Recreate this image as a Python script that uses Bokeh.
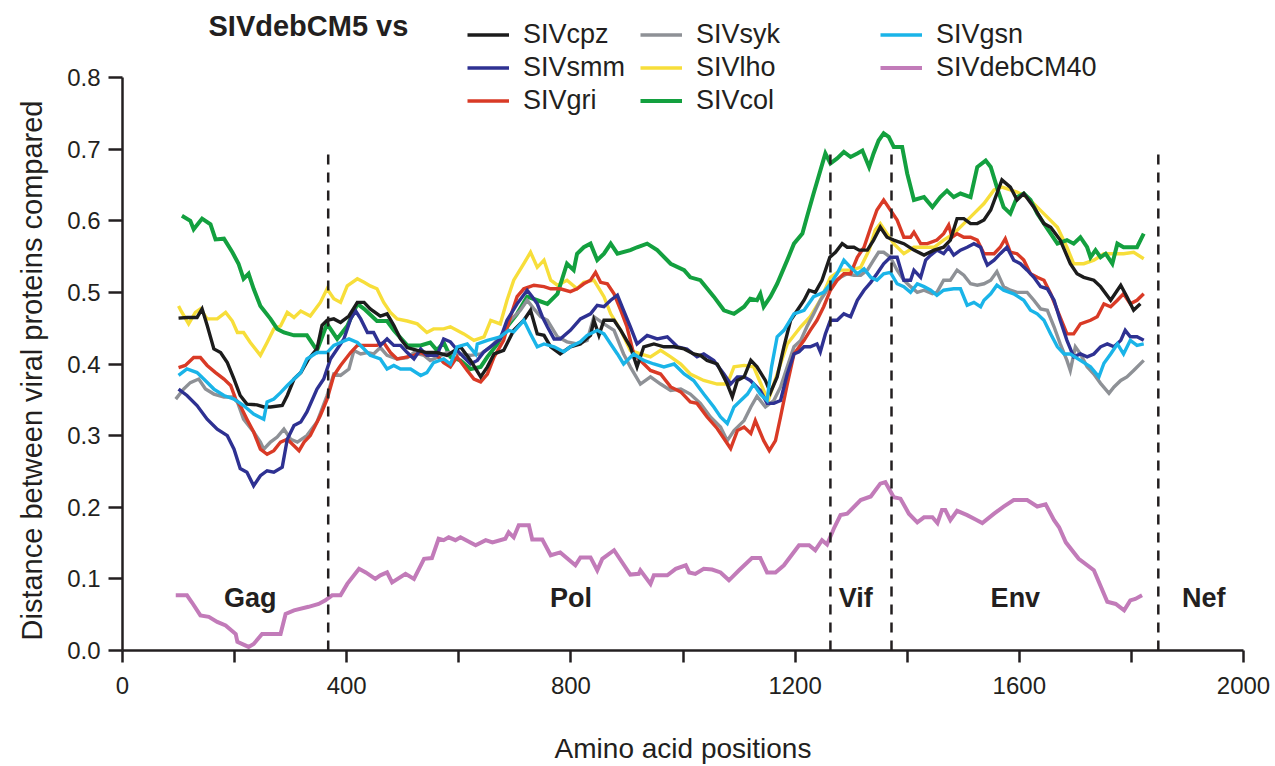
from bokeh.plotting import figure
from bokeh.models import (Range1d, FixedTicker, Legend, LegendItem, Label, Title,
                          ColumnDataSource, PrintfTickFormatter)
from bokeh.embed import file_html
from bokeh.resources import INLINE
from bokeh.core.properties import value

FONT = "Liberation Sans"
INK = "#231f20"

# ---------------- data (amino-acid position, distance) ----------------
SIVcpz = [(100,.464),(115,.465),(133,.465),(142,.477),(151,.454),(163,.421),(175,.416),(187,.402),(199,.379),(210,.356),(222,.344),(240,.343),(252,.340),(264,.340),(285,.342),(294,.356),(306,.379),(318,.388),(332,.407),(347,.421),(356,.454),(365,.461),(377,.463),(389,.458),(404,.467),(419,.486),(431,.486),(442,.477),(460,.467),(472,.470),(484,.454),(496,.435),(508,.423),(526,.419),(543,.416),(561,.416),(579,.412),(603,.424),(621,.405),(639,.382),(651,.396),(663,.414),(680,.419),(698,.447),(716,.461),(728,.475),(740,.442),(752,.440),(764,.424),(781,.414),(799,.424),(817,.428),(835,.440),(841,.461),(850,.440),(859,.461),(877,.461),(889,.447),(906,.424),(918,.396),(930,.424),(948,.428),(966,.424),(984,.424),(1002,.421),(1019,.414),(1031,.412),(1043,.405),(1061,.400),(1079,.372),(1088,.354),(1097,.377),(1109,.382),(1121,.405),(1132,.396),(1147,.377),(1156,.360),(1168,.382),(1180,.424),(1192,.461),(1204,.475),(1216,.489),(1225,.503),(1236,.500),(1248,.517),(1262,.549),(1272,.556),(1284,.568),(1293,.563),(1305,.563),(1314,.559),(1329,.559),(1340,.573),(1352,.591),(1364,.577),(1376,.573),(1394,.568),(1412,.559),(1430,.552),(1448,.559),(1465,.563),(1477,.573),(1489,.603),(1501,.603),(1513,.596),(1525,.596),(1537,.601),(1549,.615),(1560,.638),(1569,.657),(1584,.647),(1596,.629),(1608,.638),(1626,.619),(1644,.596),(1656,.591),(1673,.573),(1691,.540),(1703,.526),(1715,.521),(1733,.517),(1745,.508),(1763,.489),(1775,.503),(1781,.510),(1792,.494),(1804,.475),(1816,.484)]

SIVsmm = [(100,.365),(115,.356),(133,.342),(151,.323),(169,.309),(187,.300),(199,.281),(210,.254),(222,.249),(234,.230),(246,.244),(258,.251),(270,.249),(285,.256),(294,.295),(306,.314),(318,.319),(329,.333),(347,.365),(359,.379),(371,.407),(383,.421),(395,.435),(407,.463),(416,.474),(425,.463),(437,.444),(448,.444),(460,.426),(472,.435),(484,.426),(496,.426),(508,.416),(520,.407),(532,.421),(543,.412),(561,.412),(573,.435),(585,.431),(603,.414),(621,.400),(633,.405),(645,.417),(663,.428),(674,.435),(686,.461),(704,.484),(722,.503),(731,.494),(740,.484),(749,.466),(758,.452),(770,.435),(781,.435),(799,.447),(817,.463),(835,.470),(847,.482),(859,.480),(871,.489),(883,.496),(894,.475),(906,.452),(918,.428),(936,.440),(954,.435),(972,.438),(990,.424),(1007,.421),(1025,.410),(1037,.414),(1055,.405),(1073,.386),(1085,.372),(1097,.382),(1109,.382),(1120,.377),(1138,.363),(1150,.345),(1162,.345),(1174,.349),(1186,.386),(1198,.414),(1207,.417),(1216,.424),(1227,.424),(1239,.428),(1245,.417),(1254,.442),(1263,.461),(1275,.461),(1287,.470),(1299,.466),(1311,.489),(1323,.503),(1335,.514),(1346,.526),(1358,.540),(1370,.549),(1382,.549),(1394,.517),(1406,.517),(1412,.531),(1424,.521),(1433,.545),(1442,.552),(1453,.559),(1465,.554),(1474,.563),(1483,.552),(1495,.559),(1507,.563),(1519,.568),(1531,.563),(1537,.549),(1543,.538),(1555,.545),(1566,.554),(1578,.563),(1590,.545),(1602,.540),(1614,.531),(1626,.521),(1638,.508),(1650,.505),(1662,.489),(1673,.461),(1685,.433),(1697,.410),(1709,.414),(1721,.410),(1733,.414),(1745,.424),(1757,.428),(1769,.424),(1781,.433),(1789,.447),(1798,.438),(1810,.438),(1822,.433)]

SIVgri = [(100,.395),(112,.398),(127,.409),(139,.409),(151,.398),(166,.388),(181,.379),(193,.370),(202,.351),(210,.342),(222,.323),(234,.305),(246,.281),(258,.274),(270,.279),(282,.291),(294,.295),(306,.286),(315,.279),(324,.291),(335,.300),(353,.328),(365,.351),(377,.384),(389,.398),(407,.416),(419,.426),(437,.426),(454,.426),(466,.430),(478,.416),(490,.407),(502,.409),(520,.412),(532,.416),(543,.412),(561,.412),(573,.402),(585,.396),(597,.410),(615,.391),(627,.379),(639,.375),(651,.386),(663,.410),(680,.433),(692,.466),(704,.494),(716,.505),(734,.510),(752,.508),(764,.505),(781,.505),(799,.501),(811,.505),(823,.512),(835,.517),(844,.528),(853,.514),(865,.512),(877,.498),(889,.475),(900,.452),(912,.414),(924,.405),(942,.391),(960,.386),(978,.368),(996,.361),(1013,.347),(1025,.345),(1043,.326),(1061,.310),(1085,.282),(1097,.307),(1109,.312),(1121,.303),(1129,.321),(1144,.293),(1154,.279),(1165,.293),(1174,.326),(1186,.372),(1198,.414),(1216,.433),(1227,.447),(1239,.461),(1251,.480),(1263,.503),(1275,.517),(1287,.526),(1299,.526),(1311,.549),(1323,.563),(1335,.591),(1346,.615),(1358,.629),(1370,.615),(1382,.601),(1394,.577),(1406,.577),(1412,.584),(1424,.568),(1436,.568),(1453,.573),(1465,.582),(1474,.594),(1480,.577),(1489,.582),(1501,.577),(1513,.577),(1525,.573),(1537,.554),(1555,.554),(1566,.563),(1575,.575),(1584,.556),(1596,.554),(1608,.545),(1620,.526),(1632,.521),(1644,.517),(1656,.498),(1668,.475),(1685,.442),(1697,.442),(1709,.456),(1727,.461),(1739,.466),(1751,.484),(1763,.480),(1775,.489),(1786,.498),(1798,.484),(1810,.489),(1822,.498)]

SIVsyk = [(95,.351),(109,.365),(121,.374),(136,.379),(148,.365),(163,.358),(181,.354),(196,.354),(205,.347),(216,.323),(234,.305),(246,.291),(252,.281),(264,.291),(276,.298),(288,.309),(300,.295),(312,.291),(329,.300),(347,.319),(365,.356),(377,.386),(389,.384),(404,.393),(413,.419),(425,.414),(437,.416),(448,.414),(460,.423),(472,.412),(490,.407),(508,.409),(520,.416),(538,.412),(549,.405),(561,.409),(579,.416),(603,.414),(621,.412),(639,.414),(657,.424),(674,.438),(692,.461),(710,.475),(722,.489),(734,.477),(746,.466),(758,.461),(776,.438),(793,.431),(811,.428),(829,.433),(841,.466),(859,.456),(877,.447),(894,.414),(906,.396),(924,.372),(942,.382),(960,.372),(978,.363),(996,.365),(1013,.358),(1031,.345),(1049,.326),(1067,.312),(1079,.293),(1091,.307),(1109,.321),(1121,.340),(1132,.355),(1147,.340),(1162,.349),(1174,.368),(1186,.396),(1198,.424),(1210,.433),(1221,.452),(1233,.470),(1245,.489),(1257,.503),(1269,.514),(1281,.521),(1293,.526),(1305,.524),(1317,.524),(1329,.531),(1340,.545),(1349,.556),(1358,.556),(1370,.549),(1382,.531),(1394,.517),(1406,.508),(1418,.500),(1430,.503),(1445,.498),(1453,.500),(1465,.517),(1477,.517),(1489,.531),(1501,.524),(1513,.512),(1525,.510),(1537,.512),(1549,.517),(1560,.529),(1572,.508),(1584,.503),(1596,.500),(1614,.500),(1626,.489),(1638,.477),(1650,.475),(1662,.452),(1673,.428),(1685,.405),(1691,.391),(1700,.424),(1709,.414),(1721,.396),(1733,.386),(1745,.373),(1760,.359),(1769,.368),(1781,.377),(1792,.382),(1804,.391),(1822,.405)]

SIVlho = [(100,.481),(106,.472),(118,.456),(130,.472),(139,.477),(151,.463),(169,.463),(184,.472),(196,.460),(205,.444),(216,.444),(228,.430),(246,.412),(258,.430),(270,.449),(282,.453),(294,.472),(306,.465),(318,.474),(335,.467),(353,.486),(365,.505),(377,.491),(389,.486),(401,.509),(419,.519),(431,.514),(442,.509),(454,.505),(466,.486),(478,.472),(490,.463),(508,.460),(526,.456),(543,.444),(555,.449),(573,.449),(585,.452),(609,.442),(627,.433),(645,.438),(657,.461),(674,.456),(686,.489),(698,.517),(716,.540),(728,.556),(740,.535),(752,.545),(764,.517),(776,.510),(793,.517),(811,.505),(823,.514),(841,.517),(859,.494),(871,.470),(889,.447),(906,.419),(924,.414),(942,.410),(960,.419),(978,.410),(996,.400),(1013,.386),(1037,.377),(1061,.372),(1079,.372),(1091,.396),(1109,.398),(1126,.396),(1144,.363),(1152,.349),(1168,.386),(1186,.428),(1210,.452),(1227,.466),(1245,.489),(1263,.521),(1281,.531),(1299,.531),(1317,.535),(1332,.559),(1343,.587),(1352,.596),(1364,.582),(1376,.568),(1394,.554),(1412,.563),(1430,.563),(1448,.563),(1465,.573),(1483,.582),(1501,.596),(1519,.610),(1537,.624),(1555,.643),(1569,.647),(1584,.643),(1596,.640),(1614,.633),(1632,.619),(1650,.605),(1668,.591),(1685,.563),(1697,.540),(1715,.540),(1733,.545),(1751,.554),(1769,.554),(1786,.554),(1804,.556),(1822,.547)]

SIVcol = [(106,.607),(121,.600),(127,.588),(142,.603),(157,.595),(166,.574),(181,.575),(196,.556),(207,.540),(216,.519),(225,.526),(234,.505),(246,.481),(264,.463),(276,.449),(288,.444),(306,.440),(329,.440),(347,.419),(365,.456),(383,.435),(401,.453),(419,.484),(431,.477),(454,.460),(472,.460),(484,.447),(508,.426),(532,.426),(549,.430),(561,.419),(573,.430),(585,.410),(603,.405),(621,.393),(639,.396),(651,.410),(669,.428),(686,.452),(704,.470),(722,.494),(740,.489),(758,.484),(776,.498),(793,.540),(805,.531),(811,.554),(823,.563),(835,.568),(847,.545),(859,.554),(871,.568),(883,.554),(906,.559),(918,.563),(936,.568),(954,.559),(978,.540),(1002,.531),(1013,.521),(1031,.517),(1055,.494),(1073,.475),(1091,.470),(1109,.480),(1120,.491),(1132,.489),(1138,.498),(1144,.480),(1156,.494),(1168,.512),(1186,.545),(1198,.568),(1213,.582),(1221,.605),(1233,.638),(1245,.670),(1254,.694),(1263,.680),(1275,.687),(1287,.696),(1299,.689),(1311,.694),(1320,.698),(1332,.675),(1340,.694),(1349,.712),(1358,.722),(1367,.717),(1376,.703),(1391,.703),(1400,.666),(1412,.629),(1430,.633),(1445,.619),(1459,.633),(1471,.642),(1483,.633),(1495,.638),(1513,.633),(1525,.675),(1540,.684),(1549,.675),(1560,.647),(1572,.619),(1584,.610),(1596,.633),(1608,.638),(1620,.629),(1632,.610),(1644,.596),(1656,.582),(1668,.568),(1685,.573),(1697,.568),(1709,.577),(1721,.563),(1727,.549),(1736,.559),(1745,.549),(1754,.554),(1766,.540),(1775,.568),(1786,.563),(1798,.563),(1810,.563),(1822,.582)]

SIVgsn = [(100,.384),(115,.393),(133,.388),(145,.379),(163,.365),(181,.356),(199,.351),(216,.342),(234,.330),(252,.323),(258,.347),(270,.351),(282,.360),(294,.370),(306,.379),(318,.388),(329,.407),(347,.416),(365,.416),(377,.426),(389,.430),(404,.435),(419,.430),(431,.421),(442,.412),(460,.407),(472,.393),(484,.398),(496,.393),(514,.393),(532,.384),(543,.388),(555,.402),(573,.407),(585,.400),(597,.424),(615,.428),(630,.414),(633,.428),(651,.433),(674,.438),(689,.447),(698,.445),(716,.461),(728,.442),(740,.424),(752,.428),(770,.424),(787,.417),(799,.424),(817,.431),(829,.440),(847,.447),(859,.442),(871,.428),(883,.414),(894,.400),(912,.414),(930,.405),(948,.400),(966,.396),(984,.400),(1002,.386),(1019,.377),(1037,.358),(1055,.340),(1067,.326),(1079,.317),(1091,.340),(1103,.349),(1115,.358),(1126,.372),(1138,.358),(1150,.349),(1158,.396),(1168,.438),(1180,.447),(1198,.470),(1216,.475),(1233,.494),(1251,.500),(1263,.512),(1275,.526),(1287,.545),(1299,.535),(1311,.526),(1323,.533),(1335,.521),(1346,.517),(1358,.526),(1370,.528),(1382,.512),(1394,.508),(1406,.500),(1418,.512),(1430,.508),(1442,.503),(1453,.496),(1465,.503),(1483,.505),(1495,.505),(1507,.482),(1519,.486),(1531,.480),(1537,.489),(1549,.498),(1560,.510),(1572,.503),(1590,.498),(1608,.489),(1620,.475),(1632,.470),(1644,.461),(1656,.442),(1668,.424),(1680,.414),(1691,.414),(1709,.405),(1727,.396),(1742,.382),(1751,.401),(1763,.414),(1775,.428),(1786,.414),(1798,.433),(1810,.426),(1822,.428)]

SIVdebCM40 = [(95,.077),(115,.077),(124,.067),(139,.049),(154,.047),(169,.040),(184,.035),(202,.023),(205,.012),(225,.005),(234,.009),(249,.023),(282,.023),(291,.051),(306,.056),(332,.061),(350,.065),(362,.070),(374,.077),(389,.077),(401,.093),(422,.114),(434,.109),(451,.100),(460,.105),(472,.109),(481,.095),(505,.107),(520,.100),(538,.128),(552,.129),(564,.156),(573,.154),(582,.158),(594,.154),(603,.158),(630,.147),(648,.154),(660,.151),(683,.156),(689,.165),(698,.158),(707,.175),(725,.175),(731,.155),(749,.155),(764,.133),(781,.137),(808,.119),(817,.130),(835,.130),(847,.112),(856,.128),(877,.140),(906,.106),(921,.107),(924,.112),(942,.093),(948,.105),(972,.105),(987,.114),(1005,.119),(1011,.109),(1022,.107),(1037,.114),(1052,.113),(1067,.109),(1082,.098),(1100,.112),(1123,.129),(1138,.129),(1150,.109),(1165,.109),(1180,.119),(1207,.147),(1225,.147),(1236,.140),(1248,.154),(1257,.148),(1269,.170),(1281,.189),(1293,.191),(1317,.210),(1335,.215),(1352,.233),(1361,.235),(1376,.214),(1388,.212),(1403,.191),(1418,.179),(1430,.186),(1445,.186),(1454,.178),(1462,.196),(1468,.196),(1477,.182),(1489,.195),(1507,.189),(1522,.183),(1534,.178),(1555,.191),(1572,.201),(1590,.210),(1614,.210),(1632,.201),(1647,.204),(1662,.182),(1671,.172),(1683,.151),(1706,.128),(1733,.112),(1757,.068),(1772,.065),(1787,.056),(1798,.070),(1807,.072),(1819,.077)]

series_names = ["SIVcpz", "SIVsmm", "SIVgri", "SIVsyk", "SIVlho", "SIVcol", "SIVgsn", "SIVdebCM40"]
series_data = [SIVcpz, SIVsmm, SIVgri, SIVsyk, SIVlho, SIVcol, SIVgsn, SIVdebCM40]
series_colors = ["#1c1c1c", "#2e3192", "#d93a26", "#8e9196", "#f7de3a", "#13a03f", "#1ab4e8", "#c27bb9"]
draw_order = ["SIVlho", "SIVcol", "SIVsyk", "SIVgri", "SIVsmm", "SIVcpz", "SIVgsn", "SIVdebCM40"]

gene_bounds = [367, 1263, 1372, 1848]
gene_names = ["Gag", "Pol", "Vif", "Env", "Nef"]
gene_label_x = [228, 800, 1308, 1593, 1929]
gene_label_y = [0.073, 0.073, 0.073, 0.073, 0.073]
bound_top = 0.70

x_major = [0, 400, 800, 1200, 1600, 2000]
x_minor = [200, 600, 1000, 1400, 1800]
y_ticks = [0.0, 0.1, 0.2, 0.3, 0.4, 0.5, 0.6, 0.7, 0.8]
y_axis_max = 0.8

legend_columns = [["SIVcpz", "SIVsmm", "SIVgri"], ["SIVsyk", "SIVlho", "SIVcol"], ["SIVgsn", "SIVdebCM40"]]

# ---------------- layout ----------------
W, H = 1275, 766
B_LEFT, B_RIGHT, B_TOP, B_BOTTOM = 122, 32, 2, 116
AXIS_PX = 573                      # pixel height of the 0..0.8 axis
frame_h = H - B_TOP - B_BOTTOM
y_top = y_axis_max * frame_h / AXIS_PX   # headroom above 0.8 for legend/title

p = figure(width=W, height=H, output_backend="svg", toolbar_location=None,
           x_range=Range1d(0, 2000), y_range=Range1d(0, y_top),
           min_border_left=B_LEFT, min_border_right=B_RIGHT,
           min_border_top=B_TOP, min_border_bottom=B_BOTTOM)
p.outline_line_color = None
p.grid.visible = False
p.background_fill_color = "white"

renderers = {}
for name in draw_order:
    i = series_names.index(name)
    pts = series_data[i]
    src = ColumnDataSource(dict(x=[a for a, b in pts], y=[b for a, b in pts]))
    w = 4 if name in ("SIVcol", "SIVdebCM40") else 3.4
    renderers[name] = p.line("x", "y", source=src, line_color=series_colors[i],
                             line_width=w, line_join="miter")

# gene boundaries
p.segment(x0=gene_bounds, y0=[0] * len(gene_bounds), x1=gene_bounds,
          y1=[bound_top] * len(gene_bounds), line_color=INK, line_width=2.5,
          line_dash="10 8")

# gene labels
p.text(x=gene_label_x, y=gene_label_y, text=gene_names, text_align="center",
       text_baseline="middle", text_font=value(FONT), text_font_size="27px",
       text_font_style="bold", text_color=INK)

# axes
for ax in (p.xaxis[0], p.yaxis[0]):
    ax.axis_line_width = 2.5
    ax.axis_line_color = INK
    ax.major_tick_line_width = 2.5
    ax.major_tick_line_color = INK
    ax.minor_tick_line_width = 2.5
    ax.minor_tick_line_color = INK
    ax.major_tick_in = 0
    ax.minor_tick_in = 0
    ax.major_label_text_font = FONT
    ax.major_label_text_font_size = "24px"
    ax.major_label_text_color = INK
    ax.axis_label_text_font = FONT
    ax.axis_label_text_font_size = "28px"
    ax.axis_label_text_font_style = "normal"
    ax.axis_label_text_color = INK

p.xaxis.ticker = FixedTicker(ticks=x_major, minor_ticks=x_minor)
p.xaxis.major_tick_out = 12
p.xaxis.minor_tick_out = 12
p.xaxis.major_label_standoff = 14
p.xaxis.axis_label = "Amino acid positions"
p.xaxis.axis_label_standoff = 36

p.yaxis.ticker = FixedTicker(ticks=y_ticks)
p.yaxis.bounds = (0, y_axis_max)
p.yaxis.formatter = PrintfTickFormatter(format="%.1f")
p.yaxis.major_tick_out = 14
p.yaxis.minor_tick_out = 0
p.yaxis.major_label_standoff = 8

# y axis title, starting just above the frame bottom (spans the 0..0.8 axis)
ytitle = Title(text="Distance between viral proteins compared", align="left",
               vertical_align="top", text_font=FONT, text_font_size="29px",
               text_font_style="normal", text_color=INK, offset=10, standoff=30)
p.add_layout(ytitle, "left")

# legend (three columns) — screen offsets from frame bottom-left
col_x = [345, 518, 758]
for cx, names in zip(col_x, legend_columns):
    items = [LegendItem(label=n, renderers=[renderers[n]]) for n in names]
    h = 33 * len(names)
    leg = Legend(items=items, location=(cx, frame_h - 16 - h), orientation="vertical",
                 glyph_width=42, glyph_height=33, label_height=33, spacing=0,
                 padding=0, margin=0, label_standoff=14,
                 label_text_font=FONT, label_text_font_size="27px",
                 label_text_color=INK, border_line_color=None,
                 background_fill_alpha=0)
    p.add_layout(leg)

p.add_layout(Label(x=86, y=frame_h - 23, x_units="screen", y_units="screen",
                   text="SIVdebCM5 vs", text_font=FONT, text_font_size="29px",
                   text_font_style="bold", text_baseline="middle", text_color=INK))

open("out.html", "w").write(file_html(p, INLINE))
